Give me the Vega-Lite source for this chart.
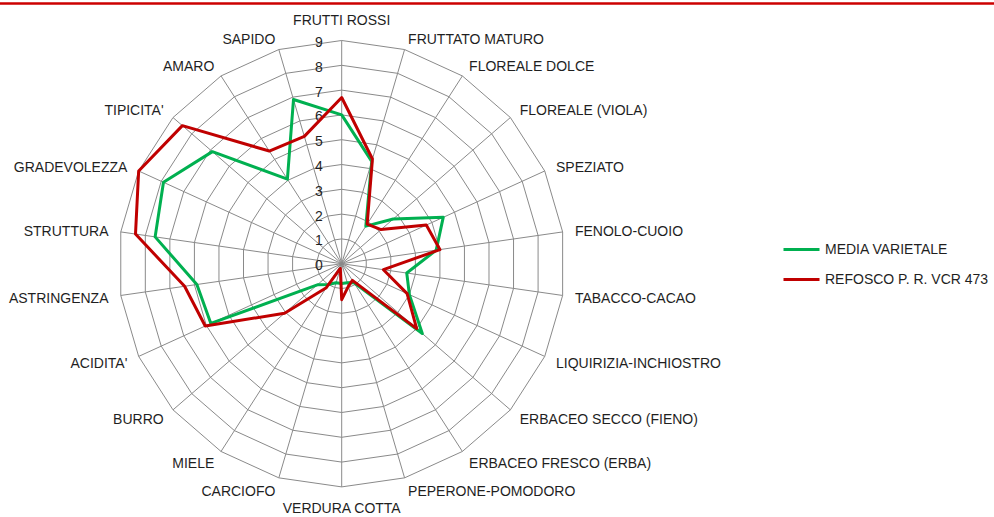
{
  "$schema": "https://vega.github.io/schema/vega-lite/v6.json",
  "width": 994,
  "height": 517,
  "autosize": {"type": "none"},
  "padding": 0,
  "background": "white",
  "config": {
    "view": {"stroke": null},
    "text": {"font": "Liberation Sans", "fontSize": 14, "color": "#1f1f1f"},
    "legend": {"labelFont": "Liberation Sans"}
  },
  "datasets": {
    "cats": [
      {"i": 0, "attr": "FRUTTI ROSSI"},
      {"i": 1, "attr": "FRUTTATO MATURO"},
      {"i": 2, "attr": "FLOREALE DOLCE"},
      {"i": 3, "attr": "FLOREALE (VIOLA)"},
      {"i": 4, "attr": "SPEZIATO"},
      {"i": 5, "attr": "FENOLO-CUOIO"},
      {"i": 6, "attr": "TABACCO-CACAO"},
      {"i": 7, "attr": "LIQUIRIZIA-INCHIOSTRO"},
      {"i": 8, "attr": "ERBACEO SECCO (FIENO)"},
      {"i": 9, "attr": "ERBACEO FRESCO (ERBA)"},
      {"i": 10, "attr": "PEPERONE-POMODORO"},
      {"i": 11, "attr": "VERDURA COTTA"},
      {"i": 12, "attr": "CARCIOFO"},
      {"i": 13, "attr": "MIELE"},
      {"i": 14, "attr": "BURRO"},
      {"i": 15, "attr": "ACIDITA'"},
      {"i": 16, "attr": "ASTRINGENZA"},
      {"i": 17, "attr": "STRUTTURA"},
      {"i": 18, "attr": "GRADEVOLEZZA"},
      {"i": 19, "attr": "TIPICITA'"},
      {"i": 20, "attr": "AMARO"},
      {"i": 21, "attr": "SAPIDO"}
    ],
    "scores": [
      {"attr": "FRUTTI ROSSI", "serie": "MEDIA VARIETALE", "v": 6.0},
      {"attr": "FRUTTATO MATURO", "serie": "MEDIA VARIETALE", "v": 4.3},
      {"attr": "FLOREALE DOLCE", "serie": "MEDIA VARIETALE", "v": 1.8},
      {"attr": "FLOREALE (VIOLA)", "serie": "MEDIA VARIETALE", "v": 2.75},
      {"attr": "SPEZIATO", "serie": "MEDIA VARIETALE", "v": 4.5},
      {"attr": "FENOLO-CUOIO", "serie": "MEDIA VARIETALE", "v": 3.85},
      {"attr": "TABACCO-CACAO", "serie": "MEDIA VARIETALE", "v": 2.65},
      {"attr": "LIQUIRIZIA-INCHIOSTRO", "serie": "MEDIA VARIETALE", "v": 3.0},
      {"attr": "ERBACEO SECCO (FIENO)", "serie": "MEDIA VARIETALE", "v": 4.3},
      {"attr": "ERBACEO FRESCO (ERBA)", "serie": "MEDIA VARIETALE", "v": 0.9},
      {"attr": "PEPERONE-POMODORO", "serie": "MEDIA VARIETALE", "v": 0.8},
      {"attr": "VERDURA COTTA", "serie": "MEDIA VARIETALE", "v": 0.8},
      {"attr": "CARCIOFO", "serie": "MEDIA VARIETALE", "v": 0.8},
      {"attr": "MIELE", "serie": "MEDIA VARIETALE", "v": 1.0},
      {"attr": "BURRO", "serie": "MEDIA VARIETALE", "v": 1.3},
      {"attr": "ACIDITA'", "serie": "MEDIA VARIETALE", "v": 5.8},
      {"attr": "ASTRINGENZA", "serie": "MEDIA VARIETALE", "v": 5.9},
      {"attr": "STRUTTURA", "serie": "MEDIA VARIETALE", "v": 7.6},
      {"attr": "GRADEVOLEZZA", "serie": "MEDIA VARIETALE", "v": 7.9},
      {"attr": "TIPICITA'", "serie": "MEDIA VARIETALE", "v": 6.9},
      {"attr": "AMARO", "serie": "MEDIA VARIETALE", "v": 4.05},
      {"attr": "SAPIDO", "serie": "MEDIA VARIETALE", "v": 6.9},
      {"attr": "FRUTTI ROSSI", "serie": "REFOSCO P. R. VCR 473", "v": 6.7},
      {"attr": "FRUTTATO MATURO", "serie": "REFOSCO P. R. VCR 473", "v": 4.4},
      {"attr": "FLOREALE DOLCE", "serie": "REFOSCO P. R. VCR 473", "v": 1.9},
      {"attr": "FLOREALE (VIOLA)", "serie": "REFOSCO P. R. VCR 473", "v": 2.1},
      {"attr": "SPEZIATO", "serie": "REFOSCO P. R. VCR 473", "v": 3.75},
      {"attr": "FENOLO-CUOIO", "serie": "REFOSCO P. R. VCR 473", "v": 4.0},
      {"attr": "TABACCO-CACAO", "serie": "REFOSCO P. R. VCR 473", "v": 1.7},
      {"attr": "LIQUIRIZIA-INCHIOSTRO", "serie": "REFOSCO P. R. VCR 473", "v": 2.9},
      {"attr": "ERBACEO SECCO (FIENO)", "serie": "REFOSCO P. R. VCR 473", "v": 4.0},
      {"attr": "ERBACEO FRESCO (ERBA)", "serie": "REFOSCO P. R. VCR 473", "v": 0.8},
      {"attr": "PEPERONE-POMODORO", "serie": "REFOSCO P. R. VCR 473", "v": 0.95},
      {"attr": "VERDURA COTTA", "serie": "REFOSCO P. R. VCR 473", "v": 1.45},
      {"attr": "CARCIOFO", "serie": "REFOSCO P. R. VCR 473", "v": 0.2},
      {"attr": "MIELE", "serie": "REFOSCO P. R. VCR 473", "v": 1.15},
      {"attr": "BURRO", "serie": "REFOSCO P. R. VCR 473", "v": 3.05},
      {"attr": "ACIDITA'", "serie": "REFOSCO P. R. VCR 473", "v": 6.05},
      {"attr": "ASTRINGENZA", "serie": "REFOSCO P. R. VCR 473", "v": 6.4},
      {"attr": "STRUTTURA", "serie": "REFOSCO P. R. VCR 473", "v": 8.4},
      {"attr": "GRADEVOLEZZA", "serie": "REFOSCO P. R. VCR 473", "v": 9.0},
      {"attr": "TIPICITA'", "serie": "REFOSCO P. R. VCR 473", "v": 8.5},
      {"attr": "AMARO", "serie": "REFOSCO P. R. VCR 473", "v": 5.4},
      {"attr": "SAPIDO", "serie": "REFOSCO P. R. VCR 473", "v": 5.35}
    ],
    "levels": [
      {"lv": 0, "a": [0,1,2,3,4,5,6,7,8,9,10,11,12,13,14,15,16,17,18,19,20,21]},
      {"lv": 1, "a": [0,1,2,3,4,5,6,7,8,9,10,11,12,13,14,15,16,17,18,19,20,21]},
      {"lv": 2, "a": [0,1,2,3,4,5,6,7,8,9,10,11,12,13,14,15,16,17,18,19,20,21]},
      {"lv": 3, "a": [0,1,2,3,4,5,6,7,8,9,10,11,12,13,14,15,16,17,18,19,20,21]},
      {"lv": 4, "a": [0,1,2,3,4,5,6,7,8,9,10,11,12,13,14,15,16,17,18,19,20,21]},
      {"lv": 5, "a": [0,1,2,3,4,5,6,7,8,9,10,11,12,13,14,15,16,17,18,19,20,21]},
      {"lv": 6, "a": [0,1,2,3,4,5,6,7,8,9,10,11,12,13,14,15,16,17,18,19,20,21]},
      {"lv": 7, "a": [0,1,2,3,4,5,6,7,8,9,10,11,12,13,14,15,16,17,18,19,20,21]},
      {"lv": 8, "a": [0,1,2,3,4,5,6,7,8,9,10,11,12,13,14,15,16,17,18,19,20,21]},
      {"lv": 9, "a": [0,1,2,3,4,5,6,7,8,9,10,11,12,13,14,15,16,17,18,19,20,21]}
    ]
  },
  "layer": [
    {
      "data": {"name": "levels"},
      "transform": [
        {"filter": "datum.lv > 0"},
        {"flatten": ["a"]},
        {"calculate": "datum.lv * sin(datum.a * 2 * PI / 22)", "as": "x"},
        {"calculate": "datum.lv * cos(datum.a * 2 * PI / 22)", "as": "y"}
      ],
      "mark": {"type": "line", "interpolate": "linear-closed", "stroke": "#8a8a8a", "strokeWidth": 1},
      "encoding": {
        "x": {"field": "x", "type": "quantitative", "scale": {"domain": [-13.778, 26.302], "nice": false, "zero": false}, "axis": null},
        "y": {"field": "y", "type": "quantitative", "scale": {"domain": [-10.214, 10.633], "nice": false, "zero": false}, "axis": null},
        "detail": {"field": "lv", "type": "nominal"},
        "order": {"field": "a", "type": "quantitative"}
      }
    },
    {
      "data": {"name": "cats"},
      "transform": [
        {"calculate": "0", "as": "x"},
        {"calculate": "0", "as": "y"},
        {"calculate": "9 * sin(datum.i * 2 * PI / 22)", "as": "ex"},
        {"calculate": "9 * cos(datum.i * 2 * PI / 22)", "as": "ey"}
      ],
      "mark": {"type": "rule", "stroke": "#8a8a8a", "strokeWidth": 1},
      "encoding": {
        "x": {"field": "x", "type": "quantitative", "scale": {"domain": [-13.778, 26.302], "nice": false, "zero": false}, "axis": null},
        "y": {"field": "y", "type": "quantitative", "scale": {"domain": [-10.214, 10.633], "nice": false, "zero": false}, "axis": null},
        "x2": {"field": "ex"},
        "y2": {"field": "ey"}
      }
    },
    {
      "data": {"name": "levels"},
      "transform": [
        {"calculate": "0", "as": "x"}
      ],
      "mark": {"type": "text", "align": "right", "baseline": "middle", "dx": -19, "dy": 2.5},
      "encoding": {
        "x": {"field": "x", "type": "quantitative", "scale": {"domain": [-13.778, 26.302], "nice": false, "zero": false}, "axis": null},
        "y": {"field": "lv", "type": "quantitative", "scale": {"domain": [-10.214, 10.633], "nice": false, "zero": false}, "axis": null},
        "text": {"field": "lv", "type": "quantitative"}
      }
    },
    {
      "data": {"name": "cats"},
      "transform": [
        {"filter": "datum.i >= 1 && datum.i <= 10"},
        {"calculate": "9.5 * sin(datum.i * 2 * PI / 22)", "as": "x"},
        {"calculate": "9.5 * cos(datum.i * 2 * PI / 22)", "as": "y"}
      ],
      "mark": {"type": "text", "align": "left", "baseline": "middle", "dy": 2},
      "encoding": {
        "x": {"field": "x", "type": "quantitative", "scale": {"domain": [-13.778, 26.302], "nice": false, "zero": false}, "axis": null},
        "y": {"field": "y", "type": "quantitative", "scale": {"domain": [-10.214, 10.633], "nice": false, "zero": false}, "axis": null},
        "text": {"field": "attr", "type": "nominal"}
      }
    },
    {
      "data": {"name": "cats"},
      "transform": [
        {"filter": "datum.i >= 12"},
        {"calculate": "9.5 * sin(datum.i * 2 * PI / 22)", "as": "x"},
        {"calculate": "9.5 * cos(datum.i * 2 * PI / 22)", "as": "y"}
      ],
      "mark": {"type": "text", "align": "right", "baseline": "middle", "dy": 2},
      "encoding": {
        "x": {"field": "x", "type": "quantitative", "scale": {"domain": [-13.778, 26.302], "nice": false, "zero": false}, "axis": null},
        "y": {"field": "y", "type": "quantitative", "scale": {"domain": [-10.214, 10.633], "nice": false, "zero": false}, "axis": null},
        "text": {"field": "attr", "type": "nominal"}
      }
    },
    {
      "data": {"name": "cats"},
      "transform": [
        {"filter": "datum.i == 0"},
        {"calculate": "9.5 * sin(datum.i * 2 * PI / 22)", "as": "x"},
        {"calculate": "9.5 * cos(datum.i * 2 * PI / 22)", "as": "y"}
      ],
      "mark": {"type": "text", "align": "center", "baseline": "middle", "dy": -7},
      "encoding": {
        "x": {"field": "x", "type": "quantitative", "scale": {"domain": [-13.778, 26.302], "nice": false, "zero": false}, "axis": null},
        "y": {"field": "y", "type": "quantitative", "scale": {"domain": [-10.214, 10.633], "nice": false, "zero": false}, "axis": null},
        "text": {"field": "attr", "type": "nominal"}
      }
    },
    {
      "data": {"name": "cats"},
      "transform": [
        {"filter": "datum.i == 11"},
        {"calculate": "9.5 * sin(datum.i * 2 * PI / 22)", "as": "x"},
        {"calculate": "9.5 * cos(datum.i * 2 * PI / 22)", "as": "y"}
      ],
      "mark": {"type": "text", "align": "center", "baseline": "middle", "dy": 10},
      "encoding": {
        "x": {"field": "x", "type": "quantitative", "scale": {"domain": [-13.778, 26.302], "nice": false, "zero": false}, "axis": null},
        "y": {"field": "y", "type": "quantitative", "scale": {"domain": [-10.214, 10.633], "nice": false, "zero": false}, "axis": null},
        "text": {"field": "attr", "type": "nominal"}
      }
    },
    {
      "data": {"name": "scores"},
      "transform": [
        {"lookup": "attr", "from": {"data": {"name": "cats"}, "key": "attr", "fields": ["i"]}},
        {"calculate": "datum.v * sin(datum.i * 2 * PI / 22)", "as": "x"},
        {"calculate": "datum.v * cos(datum.i * 2 * PI / 22)", "as": "y"}
      ],
      "mark": {"type": "line", "interpolate": "linear-closed", "strokeWidth": 3, "strokeJoin": "round"},
      "encoding": {
        "x": {"field": "x", "type": "quantitative", "scale": {"domain": [-13.778, 26.302], "nice": false, "zero": false}, "axis": null},
        "y": {"field": "y", "type": "quantitative", "scale": {"domain": [-10.214, 10.633], "nice": false, "zero": false}, "axis": null},
        "order": {"field": "i", "type": "quantitative"},
        "color": {
          "field": "serie",
          "type": "nominal",
          "scale": {"domain": ["MEDIA VARIETALE", "REFOSCO P. R. VCR 473"], "range": ["#00B050", "#C00000"]},
          "legend": {
            "title": null,
            "orient": "none",
            "legendX": 782,
            "legendY": 230,
            "padding": 0,
            "symbolType": "stroke",
            "symbolSize": 1296,
            "symbolStrokeWidth": 3,
            "labelFontSize": 14,
            "labelColor": "#1f1f1f",
            "labelOffset": 4,
            "labelLimit": 0,
            "rowPadding": 3
          }
        }
      }
    },
    {
      "data": {"values": [{"b": 10.49}]},
      "mark": {"type": "rule", "stroke": "#CC0000", "strokeWidth": 2.5},
      "encoding": {
        "y": {"field": "b", "type": "quantitative", "scale": {"domain": [-10.214, 10.633], "nice": false, "zero": false}, "axis": null}
      }
    }
  ]
}
